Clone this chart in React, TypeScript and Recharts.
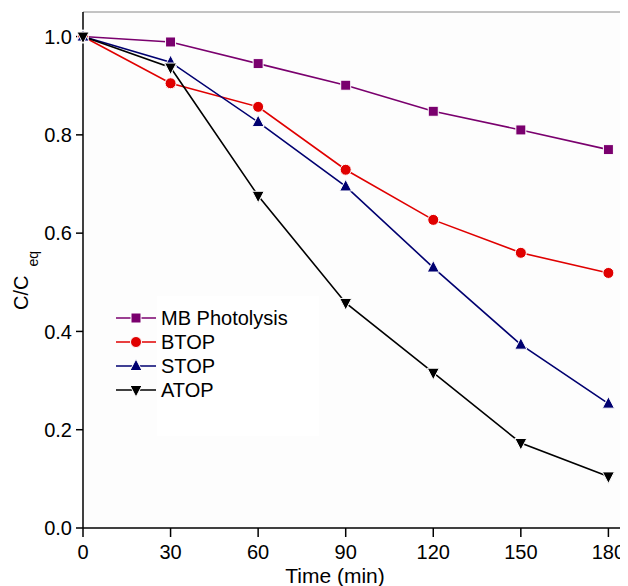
import { CartesianGrid, Legend, Line, LineChart, ReferenceLine, XAxis, YAxis } from "recharts";

const times = [0, 30, 60, 90, 120, 150, 180];
const mbPhotolysis = [1.0, 0.989, 0.945, 0.901, 0.848, 0.81, 0.77];
const btop = [1.0, 0.905, 0.857, 0.729, 0.627, 0.56, 0.519];
const stop = [1.0, 0.948, 0.826, 0.695, 0.53, 0.373, 0.253];
const atop = [1.0, 0.937, 0.676, 0.458, 0.316, 0.173, 0.105];

const xTicks = [0, 30, 60, 90, 120, 150, 180];
const yTicks = [0, 0.2, 0.4, 0.6, 0.8, 1.0];

const FONT = "'Liberation Sans', Arial, sans-serif";

type Shape = "square" | "circle" | "up" | "down";

const seriesList: { key: string; name: string; color: string; shape: Shape }[] = [
  { key: "mb", name: "MB Photolysis", color: "#7a006e", shape: "square" },
  { key: "btop", name: "BTOP", color: "#e00000", shape: "circle" },
  { key: "stop", name: "STOP", color: "#000070", shape: "up" },
  { key: "atop", name: "ATOP", color: "#000000", shape: "down" },
];

const chartData = times.map((t, i) => ({
  time: t,
  mb: mbPhotolysis[i],
  btop: btop[i],
  stop: stop[i],
  atop: atop[i],
}));

const Marker = ({ cx, cy, shape, color }: { cx: number; cy: number; shape: Shape; color: string }) => {
  if (shape === "square") {
    return <rect x={cx - 5} y={cy - 5} width={10} height={10} fill={color} stroke="#fff" strokeWidth={1} />;
  }
  if (shape === "circle") {
    return <circle cx={cx} cy={cy} r={5.5} fill={color} stroke="#fff" strokeWidth={1} />;
  }
  if (shape === "up") {
    return (
      <polygon
        points={`${cx},${cy - 7} ${cx + 6},${cy + 4.5} ${cx - 6},${cy + 4.5}`}
        fill={color}
        stroke="#fff"
        strokeWidth={1}
      />
    );
  }
  return (
    <polygon
      points={`${cx},${cy + 7} ${cx + 6},${cy - 4.5} ${cx - 6},${cy - 4.5}`}
      fill={color}
      stroke="#fff"
      strokeWidth={1}
    />
  );
};

const LegendBox = () => (
  <div style={{ position: "relative", fontFamily: FONT, fontSize: 20, color: "#000" }}>
    <div style={{ position: "absolute", left: 42, top: -10, width: 162, height: 140, background: "#fff" }} />
    {seriesList.map((s) => (
      <div key={s.key} style={{ position: "relative", display: "flex", alignItems: "center", height: 24 }}>
        <svg width={44} height={24} style={{ display: "block" }}>
          <line x1={1} y1={12} x2={41} y2={12} stroke={s.color} strokeWidth={1.6} />
          <Marker cx={21} cy={12} shape={s.shape} color={s.color} />
        </svg>
        <span style={{ marginLeft: 2, lineHeight: "24px" }}>{s.name}</span>
      </div>
    ))}
  </div>
);

const YTitle = (props: any) => {
  const vb = props.viewBox;
  const x = vb.x + 20;
  const y = vb.y + vb.height / 2 + 40;
  return (
    <text x={x} y={y} transform={`rotate(-90 ${x} ${y})`} fontFamily={FONT} fontSize={20} fill="#000">
      C/C
      <tspan dx={9} dy={10} fontSize={14}>
        eq
      </tspan>
    </text>
  );
};

const XTitle = (props: any) => {
  const vb = props.viewBox;
  return (
    <text
      x={vb.x + vb.width / 2 - 18}
      y={vb.y + 55}
      textAnchor="middle"
      fontFamily={FONT}
      fontSize={21}
      fill="#000"
    >
      Time (min)
    </text>
  );
};

export default function App() {
  return (
    <div style={{ width: 620, height: 578, background: "#fff" }}>
      <LineChart width={620} height={578} data={chartData} margin={{ top: 4, right: 5, left: 0, bottom: 0 }}>
        <CartesianGrid horizontal={false} vertical={false} fill="#fdfdfd" />
        <XAxis
          dataKey="time"
          type="number"
          domain={[0, 185]}
          ticks={xTicks}
          height={58}
          tickSize={9}
          tickMargin={8}
          stroke="#000"
          strokeWidth={1.5}
          tick={{ fill: "#000", fontSize: 20, fontFamily: FONT }}
          label={<XTitle />}
        />
        <YAxis
          type="number"
          domain={[0, 1.05]}
          ticks={yTicks}
          width={75}
          tickSize={7}
          tickMargin={4}
          stroke="#000"
          strokeWidth={1.5}
          tickFormatter={(v: number) => v.toFixed(1)}
          tick={{ fill: "#000", fontSize: 20, fontFamily: FONT }}
          label={<YTitle />}
        />
        <ReferenceLine y={1.05} stroke="#8a8a8a" strokeWidth={1.2} />
        <ReferenceLine x={185} stroke="#8a8a8a" strokeWidth={1.2} />
        {seriesList.map((s) => (
          <Line
            key={s.key}
            dataKey={s.key}
            name={s.name}
            type="linear"
            stroke={s.color}
            strokeWidth={1.6}
            isAnimationActive={false}
            dot={(p: any) => (
              <g key={`${s.key}-${p.index}`}>
                <Marker cx={p.cx} cy={p.cy} shape={s.shape} color={s.color} />
              </g>
            )}
            activeDot={false}
          />
        ))}
        <Legend
          layout="horizontal"
          verticalAlign="middle"
          align="center"
          wrapperStyle={{ position: "absolute", left: 107, top: 298, width: 220 }}
          content={() => <LegendBox />}
        />
      </LineChart>
    </div>
  );
}
